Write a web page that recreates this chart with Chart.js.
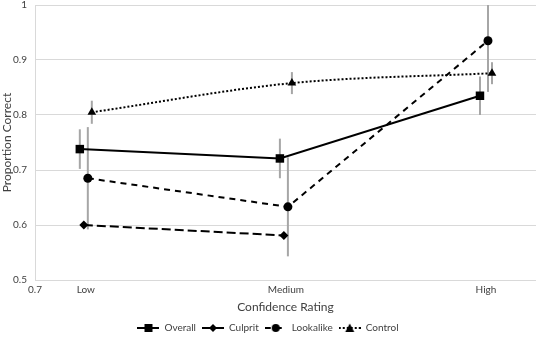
<!DOCTYPE html>
<html><head><meta charset="utf-8">
<script src="https://cdn.jsdelivr.net/npm/chart.js@4.4.1/dist/chart.umd.min.js"></script>
<style>html,body{margin:0;padding:0;background:#fff}#wrap{width:536px;height:337px}</style>
</head><body><div id="wrap"><canvas id="c" width="536" height="337"></canvas></div>
<script>
const categories = ['Low', 'Medium', 'High'];
const seriesNames = ['Overall', 'Culprit', 'Lookalike', 'Control'];
const overall = [0.738, 0.721, 0.835];
const overallErr = [0.036, 0.036, 0.035];
const culprit = [0.600, 0.581];
const culpritErr = [0.006, 0.006];
const lookalike = [0.685, 0.633, 0.935];
const lookalikeErr = [0.093, 0.090, 0.093];
const control = [0.805, 0.858, 0.876];
const controlErr = [0.021, 0.020, 0.020];
const yTicks = [0.5, 0.6, 0.7, 0.8, 0.9, 1];
const xAxisMinLabel = '0.7';

const FONT = 'Lato, "Open Sans", sans-serif';
const TXT = '#404040';
const offsets = [-0.03, -0.01, 0.01, 0.03];
function pts(vals, s){ return vals.map((v,i)=>({x:i+1+offsets[s], y:v})); }
const styles = [
  {pointStyle:'rect', radius:6, dash:[], width:2},
  {pointStyle:'rectRot', radius:4.5, dash:[9,4], width:2},
  {pointStyle:'circle', radius:4.5, dash:[6,5], width:2},
  {pointStyle:'triangle', radius:5, dash:[2,2], width:2}
];
const vals = [overall, culprit, lookalike, control];
const errs = [overallErr, culpritErr, lookalikeErr, controlErr];

function legendImg(s){
  const W=22, c = document.createElement('canvas'); c.width=W; c.height=10;
  const g = c.getContext('2d'); const m=W/2;
  g.strokeStyle='#000'; g.lineWidth=2; g.setLineDash(styles[s].dash);
  g.beginPath(); g.moveTo(0,5); g.lineTo(W,5); g.stroke(); g.setLineDash([]);
  g.fillStyle='#000';
  const st=styles[s].pointStyle; g.beginPath();
  if(st==='rect'){ g.rect(m-4,1,8,8); }
  else if(st==='rectRot'){ g.moveTo(m,1);g.lineTo(m+4,5);g.lineTo(m,9);g.lineTo(m-4,5);g.closePath(); }
  else if(st==='circle'){ g.arc(m,5,4,0,Math.PI*2); }
  else { g.moveTo(m,0.5);g.lineTo(m+4.5,9);g.lineTo(m-4.5,9);g.closePath(); }
  g.fill();
  return c;
}

const datasets = vals.map((v,s)=>({
  label: seriesNames[s],
  data: pts(v,s),
  borderColor:'#000', backgroundColor:'#000',
  borderWidth: styles[s].width, borderDash: styles[s].dash,
  pointStyle: styles[s].pointStyle, pointRadius: styles[s].radius,
  pointBackgroundColor:'#000', pointBorderColor:'#000', pointBorderWidth:0,
  tension: s===3 ? 0.4 : 0, cubicInterpolationMode: s===3 ? 'monotone' : 'default',
  showLine:true, fill:false, clip:false
}));

const errorBars = {
  id:'errorBars',
  beforeDatasetsDraw(chart){
    const {ctx, scales:{x,y}, chartArea} = chart;
    ctx.save(); ctx.strokeStyle='#a6a6a6'; ctx.lineWidth=2;
    vals.forEach((v,s)=>{
      v.forEach((val,i)=>{
        const px = x.getPixelForValue(i+1+offsets[s]);
        const top = Math.max(chartArea.top, y.getPixelForValue(Math.min(1, val+errs[s][i])));
        const bot = y.getPixelForValue(val-errs[s][i]);
        ctx.beginPath(); ctx.moveTo(px, top); ctx.lineTo(px, bot); ctx.stroke();
      });
    });
    ctx.restore();
  }
};

new Chart(document.getElementById('c'), {
  type:'scatter',
  data:{datasets},
  plugins:[errorBars],
  options:{
    responsive:false, animation:false,
    layout:{autoPadding:false, padding:{top:5, right:0, left:0, bottom:-6}},
    plugins:{
      tooltip:{enabled:false},
      legend:{position:'bottom', labels:{
        usePointStyle:true, pointStyleWidth:22, boxHeight:10, padding:6,
        font:{family:FONT, size:10}, color:TXT,
        generateLabels(chart){
          return seriesNames.map((n,s)=>({text:n, pointStyle:legendImg(s), fillStyle:'#000', strokeStyle:'#000', lineWidth:0, datasetIndex:s, fontColor:TXT}));
        }
      }}
    },
    scales:{
      x:{type:'linear', min:0.746, max:3.25,
        afterBuildTicks(sc){ sc.ticks=[{value:0.746},{value:1},{value:2},{value:3}]; },
        afterFit(sc){ sc.height=37; sc.paddingRight=0; },
        ticks:{autoSkip:false, maxRotation:0, font:{family:FONT,size:10}, color:TXT, padding:4,
          callback(v){ return v < 0.9 ? xAxisMinLabel : categories[Math.round(v)-1]; }},
        grid:{display:false, drawTicks:false},
        border:{display:true, color:'#d9d9d9', width:1},
        title:{display:true, text:'Confidence Rating', font:{family:FONT,size:12}, color:TXT, padding:{top:3.6,bottom:3}}
      },
      y:{min:0.5, max:1,
        afterBuildTicks(sc){ sc.ticks=yTicks.map(v=>({value:v})); },
        afterFit(sc){ sc.width=35; sc.paddingTop=0; sc.paddingBottom=0; },
        ticks:{font:{family:FONT,size:10}, color:TXT, padding:8,
          callback(v){ return String(Math.round(v*10)/10); }},
        grid:{color:'#d9d9d9', lineWidth:1, drawTicks:false},
        border:{display:true, color:'#d9d9d9'},
        title:{display:true, text:'Proportion Correct', font:{family:FONT,size:12}, color:TXT, padding:{top:0,bottom:2}}
      }
    }
  }
});
</script></body></html>
